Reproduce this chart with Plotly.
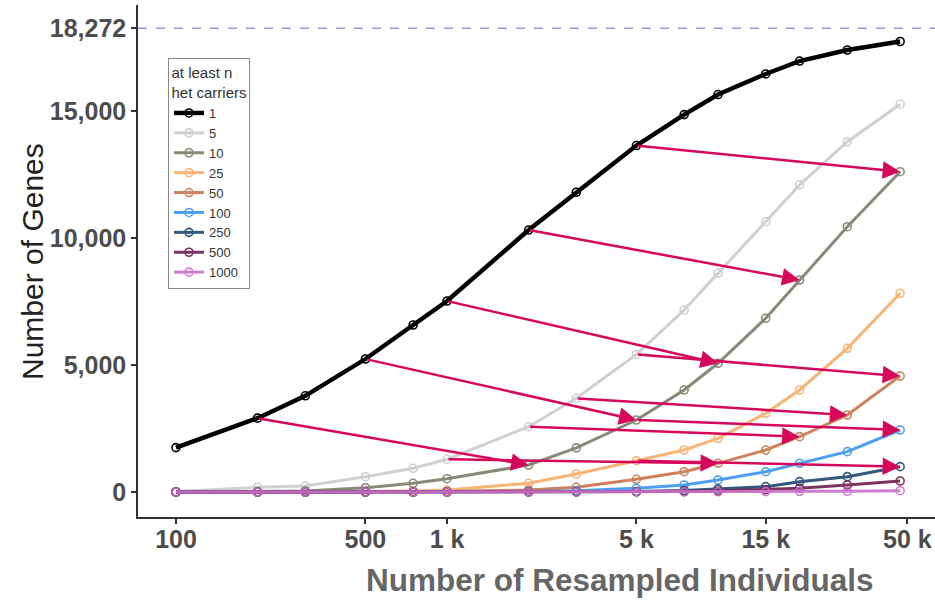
import numpy as np
import plotly.graph_objects as go

# ---- data ----
n_individuals = [100, 200, 300, 500, 750, 1000, 2000, 3000, 5000, 7500, 10000, 15000, 20000, 30000, 47000]

genes_1 = [1750, 2910, 3790, 5240, 6580, 7525, 10320, 11810, 13650, 14870, 15660, 16470, 16980, 17415, 17750]
genes_5 = [20, 185, 236, 603, 933, 1288, 2573, 3692, 5420, 7170, 8617, 10650, 12100, 13800, 15280]
genes_10 = [0, 10, 40, 170, 342, 524, 1064, 1740, 2837, 4019, 5071, 6844, 8353, 10453, 12620]
genes_25 = [0, 0, 5, 15, 40, 80, 342, 709, 1233, 1655, 2116, 3100, 4019, 5660, 7829]
genes_50 = [0, 0, 0, 5, 8, 15, 80, 185, 500, 800, 1130, 1655, 2180, 3034, 4570]
genes_100 = [0, 0, 0, 0, 0, 2, 20, 50, 145, 276, 473, 800, 1130, 1590, 2443]
genes_250 = [0, 0, 0, 0, 0, 0, 2, 5, 20, 60, 118, 210, 407, 604, 998]
genes_500 = [0, 0, 0, 0, 0, 0, 0, 1, 5, 15, 40, 90, 150, 276, 433]
genes_1000 = [0, 0, 0, 0, 0, 0, 0, 0, 1, 3, 8, 15, 25, 30, 52]

series_names = ["1", "5", "10", "25", "50", "100", "250", "500", "1000"]
series_values = [genes_1, genes_5, genes_10, genes_25, genes_50, genes_100, genes_250, genes_500, genes_1000]
series_colors = ["#000000", "#cbcbcb", "#7d7d6c", "#f6ad68", "#c8744c", "#3a96f0", "#1f4670", "#6e1f4c", "#cc70cc"]

total_genes = 18272

x_tick_vals = [100, 500, 1000, 5000, 15000, 50000]
x_tick_text = ["100", "500", "1 k", "5 k", "15 k", "50 k"]
y_tick_vals = [0, 5000, 10000, 15000, 18272]
y_tick_text = ["0", "5,000", "10,000", "15,000", "18,272"]

# arrows: (from series, from index, to series, to index)
arrows = [
    ("1", 8, "10", 14),
    ("1", 6, "10", 12),
    ("1", 5, "10", 10),
    ("1", 3, "10", 8),
    ("1", 1, "10", 6),
    ("5", 8, "50", 14),
    ("5", 7, "50", 13),
    ("5", 6, "50", 12),
    ("5", 5, "50", 10),
    ("10", 8, "100", 14),
    ("25", 8, "250", 14),
]

lookup = dict(zip(series_names, series_values))

fig = go.Figure()
for name, vals, col in zip(series_names, series_values, series_colors):
    fig.add_trace(go.Scatter(
        x=n_individuals, y=vals, name=name, mode="lines+markers",
        line=dict(color=col, width=4.4 if name == "1" else 3),
        marker=dict(symbol="circle-open", size=8, color=col, line=dict(width=1.6, color=col)),
        opacity=1 if name == "1" else 0.9,
    ))

fig.add_shape(type="line", xref="paper", x0=0, x1=1, yref="y", y0=total_genes, y1=total_genes,
              line=dict(color="#9f95d8", width=1.5, dash="dash"))

arrow_color = "#d6085a"
for s_from, i_from, s_to, i_to in arrows:
    fig.add_annotation(
        x=np.log10(n_individuals[i_to]), y=lookup[s_to][i_to],
        ax=np.log10(n_individuals[i_from]), ay=lookup[s_from][i_from],
        xref="x", yref="y", axref="x", ayref="y",
        showarrow=True, arrowhead=2, arrowsize=1.4, arrowwidth=2.5, arrowcolor=arrow_color,
        text="", standoff=0, startstandoff=0,
    )

font_family = "Liberation Sans, Arial, sans-serif"

fig.add_annotation(text="Number of Resampled Individuals", xref="paper", yref="paper",
                   x=0.6048, y=-0.123, xanchor="center", yanchor="middle", showarrow=False,
                   font=dict(family=font_family, size=31.5, color="#666666", weight="bold"))
fig.add_annotation(text="Number of Genes", xref="paper", yref="paper",
                   x=-0.133, y=0.5, xanchor="center", yanchor="middle", showarrow=False,
                   textangle=-90, font=dict(family=font_family, size=30, color="#222222"))

fig.update_layout(
    width=935, height=600,
    margin=dict(l=138, r=0, t=5, b=83, autoexpand=False),
    paper_bgcolor="white", plot_bgcolor="white",
    font=dict(family=font_family),
    showlegend=True,
    legend=dict(
        x=0.0376, y=0.8965, xanchor="left", yanchor="top",
        bordercolor="#888888", borderwidth=1, bgcolor="white",
        title=dict(text="at least n<br>het carriers", font=dict(size=15, color="#333333"), side="top center"),
        font=dict(size=13, color="#333333"),
        itemwidth=30, tracegroupgap=0,
    ),
)

fig.update_xaxes(
    type="log", range=[1.8598, 4.8007], automargin=False,
    tickvals=x_tick_vals, ticktext=x_tick_text,
    tickfont=dict(size=25, color="#4d4d4d", weight="bold"),
    ticks="outside", ticklen=5, tickwidth=1.5, tickcolor="#333333",
    ticklabelstandoff=-6,
    showline=True, linecolor="#333333", linewidth=1.5,
    showgrid=False, zeroline=False,
)
fig.update_yaxes(
    range=[-985, 19188], automargin=False,
    tickvals=y_tick_vals, ticktext=y_tick_text,
    tickfont=dict(size=25, color="#4d4d4d", weight="bold"),
    ticks="outside", ticklen=5, tickwidth=1.5, tickcolor="#333333",
    showline=True, linecolor="#333333", linewidth=1.5,
    showgrid=False, zeroline=False,
)

fig.write_html("out.html", config={"displayModeBar": False},
               post_script="document.body.style.margin='0';document.body.style.overflow='hidden';")
